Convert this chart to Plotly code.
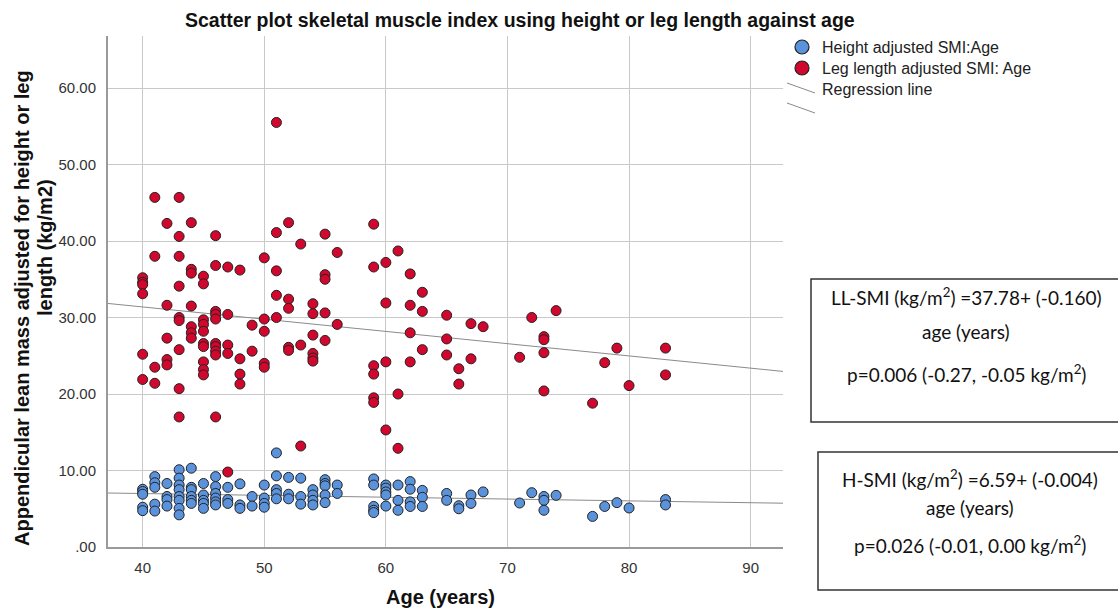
import plotly.graph_objects as go

# ---------------- data ----------------
ages_ll = ([40]*6 + [41]*4 + [42]*5 + [43]*9 + [44]*7 + [45]*10 + [46]*10 + [47]*5 + [48]*4 +
           [49]*2 + [50]*5 + [51]*5 + [52]*5 + [53]*3 + [54]*6 + [55]*5 + [56]*2 + [59]*6 +
           [60]*4 + [61]*3 + [62]*4 + [63]*3 + [65]*3 + [66]*2 + [67]*2 + [68]*1 + [71] + [72] +
           [73]*4 + [74] + [77] + [78] + [79] + [80] + [83]*2)
smi_ll = [35.2, 34.6, 34.3, 33.1, 25.2, 21.9,
          45.7, 38.0, 23.5, 21.4,
          42.3, 31.6, 27.3, 24.5, 23.8,
          45.7, 40.6, 38.0, 34.1, 30.0, 29.6, 25.8, 20.7, 17.0,
          42.4, 36.3, 35.8, 31.5, 28.8, 28.0, 27.3,
          35.4, 34.4, 29.7, 29.1, 28.2, 26.6, 26.2, 24.2, 23.2, 22.5,
          40.7, 36.8, 30.8, 30.4, 29.8, 26.6, 26.2, 25.6, 25.1, 17.0,
          36.6, 30.4, 26.4, 25.3, 9.8,
          36.2, 24.6, 22.6, 21.3,
          29.0, 25.6,
          37.8, 29.8, 28.2, 24.0, 23.5,
          55.5, 41.1, 36.1, 32.9, 30.0,
          42.4, 32.4, 31.2, 26.1, 25.7,
          39.6, 26.4, 13.2,
          31.8, 30.5, 27.7, 25.3, 24.7, 24.3,
          40.9, 35.6, 35.0, 30.6, 27.0,
          38.5, 29.1,
          42.2, 36.6, 23.7, 22.6, 19.5, 18.9,
          37.2, 31.9, 24.2, 15.3,
          38.7, 20.0, 12.9,
          35.7, 31.6, 28.0, 24.2,
          33.3, 30.8, 25.8,
          30.3, 27.2, 25.1,
          23.3, 21.3,
          29.2, 24.6,
          28.8,
          24.8,
          30.0,
          27.5, 27.1, 25.4, 20.4,
          30.9,
          18.8,
          24.1,
          26.0,
          21.1,
          26.0, 22.5]

ages_h = ([40]*5 + [41]*5 + [42]*4 + [43]*8 + [44]*6 + [45]*5 + [46]*6 + [47]*3 + [48]*3 +
          [49]*2 + [50]*4 + [51]*5 + [52]*3 + [53]*3 + [54]*4 + [55]*5 + [56]*2 + [59]*5 +
          [60]*5 + [61]*3 + [62]*4 + [63]*3 + [65]*2 + [66]*2 + [67]*2 + [68] + [71] + [72] +
          [73]*3 + [74] + [77] + [78] + [79] + [80] + [83]*2)
smi_h = [7.55, 7.25, 6.9, 5.2, 4.75,
         9.2, 8.4, 7.8, 5.6, 4.7,
         8.3, 6.6, 6.2, 5.35,
         10.1, 9.0, 8.1, 7.5, 6.6, 6.1, 5.05, 4.2,
         10.3, 7.8, 7.5, 6.6, 6.1, 5.7,
         8.3, 6.8, 6.1, 5.7, 5.05,
         9.2, 7.9, 7.0, 6.4, 5.9, 5.5,
         7.8, 6.2, 5.7,
         8.25, 5.5, 5.05,
         6.6, 5.35,
         8.1, 6.4, 5.7, 5.2,
         12.3, 9.3, 7.5, 7.0, 6.3,
         9.1, 6.9, 6.3,
         9.0, 6.6, 5.6,
         7.5, 6.8, 6.1, 5.5,
         8.8, 8.3, 8.0, 6.8, 5.8,
         8.1, 7.0,
         8.9, 8.1, 5.3, 4.8, 4.5,
         8.1, 7.7, 7.2, 6.8, 5.35,
         8.1, 6.1, 4.8,
         8.55, 7.55, 5.9, 5.3,
         7.4, 6.5, 5.3,
         7.0, 6.1,
         5.4, 5.0,
         6.8, 5.7,
         7.2,
         5.75,
         7.1,
         6.6, 6.1, 4.8,
         6.75,
         4.0,
         5.3,
         5.8,
         5.1,
         6.2, 5.5]

# regression lines (intercept, slope) as drawn
ll_fit = (37.78, -0.160)
h_fit = (7.95, -0.024)
x_range = [37.15, 92.66]
y_range = [0, 66.8]

x_ticks = [40, 50, 60, 70, 80, 90]
y_ticks = [0, 10, 20, 30, 40, 50, 60]
y_ticktext = [".00", "10.00", "20.00", "30.00", "40.00", "50.00", "60.00"]

title = "Scatter plot skeletal muscle index using height or leg length against age"
x_title = "Age (years)"
y_title_1 = "Appendicular lean mass adjusted for height or leg"
y_title_2 = "length (kg/m2)"
legend_labels = ["Height adjusted SMI:Age", "Leg length adjusted SMI: Age", "Regression line"]
box1_lines = ["LL-SMI (kg/m<sup>2</sup>) =37.78+ (-0.160)", "age (years)",
              "p=0.006 (-0.27, -0.05 kg/m<sup>2</sup>)"]
box2_lines = ["H-SMI (kg/m<sup>2</sup>) =6.59+ (-0.004)", "age (years)",
              "p=0.026 (-0.01, 0.00 kg/m<sup>2</sup>)"]

BLUE = "#5a93dc"
RED = "#d2072e"
EDGE = "#222222"
GRID = "#c9c9c9"
FONT = "Liberation Sans, Arial"

# ---------------- figure ----------------
W, H = 1118, 611
L, R, T, B = 108, 1118 - 783, 36, 611 - 547
PW, PH = W - L - R, H - T - B


def px(x):
    return (x - L) / PW


def py(y):
    return (H - B - y) / PH


fig = go.Figure()

for (a, b) in (ll_fit, h_fit):
    fig.add_trace(go.Scatter(x=x_range, y=[a + b * x_range[0], a + b * x_range[1]],
                             mode="lines", line=dict(color="#8a8a8a", width=1),
                             showlegend=False, hoverinfo="skip"))

fig.add_trace(go.Scatter(x=ages_h, y=smi_h, mode="markers", name=legend_labels[0],
                         marker=dict(size=10, color=BLUE, line=dict(color=EDGE, width=1)),
                         showlegend=False))
fig.add_trace(go.Scatter(x=ages_ll, y=smi_ll, mode="markers", name=legend_labels[1],
                         marker=dict(size=10, color=RED, line=dict(color=EDGE, width=1)),
                         showlegend=False))

shapes = []
annotations = []

# legend (manual)
for i, col in enumerate([BLUE, RED]):
    cy = 47 + i * 21
    shapes.append(dict(type="circle", xref="paper", yref="paper",
                       x0=px(795), x1=px(809), y0=py(cy + 7), y1=py(cy - 7),
                       fillcolor=col, line=dict(color=EDGE, width=1.2)))
for (x0, y0, x1, y1) in [(787, 83, 815, 93), (787, 103, 815, 113)]:
    shapes.append(dict(type="line", xref="paper", yref="paper",
                       x0=px(x0), y0=py(y0), x1=px(x1), y1=py(y1),
                       line=dict(color="#8a8a8a", width=1)))
for i, lab in enumerate(legend_labels):
    annotations.append(dict(text=lab, xref="paper", yref="paper", x=px(820), y=py(47 + i * 21),
                            xanchor="left", yanchor="middle", showarrow=False,
                            font=dict(family=FONT, size=16, color="#222")))

# equation boxes (right side runs off the picture)
for (x0, y0, x1, y1) in [(811, 279, 1125, 422), (818, 452, 1125, 590)]:
    shapes.append(dict(type="rect", xref="paper", yref="paper",
                       x0=px(x0), y0=py(y0), x1=px(x1), y1=py(y1),
                       fillcolor="white", line=dict(color="#333", width=1.5), layer="above"))
for lines, cx, ys in [(box1_lines, 966, [296, 331, 373]), (box2_lines, 970, [478, 507, 544])]:
    for txt, yy in zip(lines, ys):
        annotations.append(dict(text=txt, xref="paper", yref="paper", x=px(cx), y=py(yy),
                                xanchor="center", yanchor="middle", showarrow=False,
                                font=dict(family="Lato", size=19, color="#111")))

# titles
annotations.append(dict(text="<b>" + title + "</b>", xref="paper", yref="paper", x=px(520), y=py(20),
                        xanchor="center", yanchor="middle", showarrow=False,
                        font=dict(family=FONT, size=19.5, color="#111")))
annotations.append(dict(text="<b>" + x_title + "</b>", xref="paper", yref="paper", x=px(440), y=py(597),
                        xanchor="center", yanchor="middle", showarrow=False,
                        font=dict(family=FONT, size=20, color="#111")))
annotations.append(dict(text="<b>" + y_title_1 + "</b>", xref="paper", yref="paper", x=px(22), y=py(308),
                        xanchor="center", yanchor="middle", showarrow=False, textangle=-90,
                        font=dict(family=FONT, size=20, color="#111")))
annotations.append(dict(text="<b>" + y_title_2 + "</b>", xref="paper", yref="paper", x=px(45), y=py(248),
                        xanchor="center", yanchor="middle", showarrow=False, textangle=-90,
                        font=dict(family=FONT, size=20, color="#111")))

fig.update_layout(
    width=W, height=H,
    margin=dict(l=L, r=R, t=T, b=B),
    paper_bgcolor="white", plot_bgcolor="white",
    showlegend=False,
    shapes=shapes, annotations=annotations,
    xaxis=dict(range=x_range, tickvals=x_ticks, showgrid=True, gridcolor=GRID, gridwidth=1.3,
               zeroline=False, showline=True, linecolor="#9a9a9a", linewidth=2,
               ticks="", ticklabelstandoff=6,
               tickfont=dict(family=FONT, size=15, color="#333")),
    yaxis=dict(range=y_range, tickvals=y_ticks, ticktext=y_ticktext, showgrid=True,
               gridcolor=GRID, gridwidth=1.3, zeroline=False, showline=True,
               linecolor="#9a9a9a", linewidth=2, ticks="", ticklabelstandoff=7,
               tickfont=dict(family=FONT, size=15, color="#333")),
)

fig.write_html("out.html", config={"displayModeBar": False},
               post_script="document.body.style.margin='0';document.body.style.overflow='hidden';")
